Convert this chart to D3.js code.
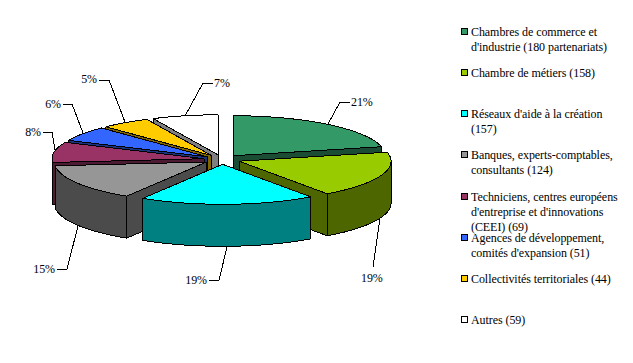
<!DOCTYPE html>
<html>
<head>
<meta charset="utf-8">
<script src="https://cdn.jsdelivr.net/npm/d3@7"></script>
<style>
  html, body { margin: 0; padding: 0; background: #fff; overflow: hidden; }
  text { font-family: "Liberation Serif", "Times New Roman", serif; font-size: 12px; letter-spacing: -0.07px; fill: #000; }
</style>
</head>
<body>
<div id="chart"></div>
<script>
// partnership counts, same order as the legend
const counts = [180, 158, 157, 124, 69, 51, 44, 59];
const colors = ['#339966', '#99CC00', '#00FFFF', '#969696', '#993366', '#3366FF', '#FFCC00', '#FFFFFF'];
const legendLines = [
  ['Chambres de commerce et', "d'industrie (180 partenariats)"],
  ['Chambre de métiers (158)'],
  ["Réseaux d'aide à la création", '(157)'],
  ['Banques, experts-comptables,', 'consultants (124)'],
  ['Techniciens, centres européens', "d'entreprise et d'innovations", '(CEEI) (69)'],
  ['Agences de développement,', "comités d'expansion (51)"],
  ['Collectivités territoriales (44)'],
  ['Autres (59)']
];

// leader lines and where their label sits
const leaders = [
  {path: [[328, 124], [340, 102], [350, 102]], tx: 351, ty: 102, anchor: 'start'},
  {path: [[380, 218], [373, 267]], tx: 361, ty: 278, anchor: 'start'},
  {path: [[227, 247], [219, 280], [209, 280]], tx: 207, ty: 280, anchor: 'end'},
  {path: [[78, 226], [67, 269], [57, 269]], tx: 55, ty: 269, anchor: 'end'},
  {path: [[55, 150], [52, 132], [43, 132]], tx: 41, ty: 132, anchor: 'end'},
  {path: [[83, 133], [72, 104], [63, 104]], tx: 61, ty: 104, anchor: 'end'},
  {path: [[125, 122], [109, 80], [99, 80]], tx: 97, ty: 79, anchor: 'end'},
  {path: [[185, 116], [203, 83], [213, 83]], tx: 214, ty: 83, anchor: 'start'}
];

const width = 633, height = 363;
const cx = 222, cy = 159.5, rx = 152, ry = 40, depth = 42;
const explode = 0.12;

const svg = d3.select('#chart').append('svg')
  .attr('width', width)
  .attr('height', height);

// unit circle -> flattened pie
const x = d3.scaleLinear().domain([-1, 1]).range([cx - rx, cx + rx]);
const y = d3.scaleLinear().domain([-1, 1]).range([cy + ry, cy - ry]);

const total = d3.sum(counts);
const pie = d3.pie().sort(null).startAngle(0).endAngle(2 * Math.PI);
const line = d3.line();

const slices = pie(counts).map((d, i) => {
  const mid = (d.startAngle + d.endAngle) / 2;
  return {
    i: i,
    start: d.startAngle,
    end: d.endAngle,
    ox: explode * Math.sin(mid),
    oy: explode * Math.cos(mid),
    color: colors[i]
  };
});

function point(s, a) {
  return [x(s.ox + Math.sin(a)), y(s.oy + Math.cos(a))];
}

function arcPoints(s, from, to) {
  const n = Math.max(2, Math.ceil((to - from) * 40));
  return d3.range(n + 1).map(k => point(s, from + (to - from) * k / n));
}

function down(p) {
  return [p[0], p[1] + depth];
}

function darken(c) {
  const r = d3.rgb(c);
  return d3.rgb(r.r / 2, r.g / 2, r.b / 2).formatHex();
}

function face(pts, fill) {
  svg.append('path')
    .attr('d', line(pts) + 'Z')
    .attr('fill', fill)
    .attr('stroke', '#000')
    .attr('stroke-width', 1)
    .attr('stroke-linejoin', 'round')
    .attr('shape-rendering', 'crispEdges');
}

// back slices first
const order = slices.slice().sort((a, b) => d3.descending(a.oy, b.oy));

order.forEach(s => {
  const apex = [x(s.ox), y(s.oy)];
  const side = darken(s.color);

  // radial walls, only those turned to the viewer
  if (Math.sin(s.start) < -1e-6) {
    const p = point(s, s.start);
    face([apex, p, down(p), down(apex)], side);
  }
  if (Math.sin(s.end) > 1e-6) {
    const p = point(s, s.end);
    face([apex, p, down(p), down(apex)], side);
  }

  // outer wall, same
  const from = Math.max(s.start, Math.PI / 2);
  const to = Math.min(s.end, 3 * Math.PI / 2);
  if (to > from) {
    const rim = arcPoints(s, from, to);
    face(rim.concat(rim.map(down).reverse()), side);
  }

  // top
  face([apex].concat(arcPoints(s, s.start, s.end)), s.color);
});

// percent labels
leaders.forEach((l, i) => {
  svg.append('path')
    .attr('d', line(l.path))
    .attr('fill', 'none')
    .attr('stroke', '#000')
    .attr('shape-rendering', 'crispEdges');

  svg.append('text')
    .attr('x', l.tx)
    .attr('y', l.ty + 4)
    .attr('text-anchor', l.anchor)
    .text(Math.round(counts[i] / total * 100) + '%');
});

// legend
const legendY = d3.scaleLinear().domain([0, 7]).range([32, 320]);
const lineHeight = 15;

legendLines.forEach((lines, i) => {
  const top = Math.round(legendY(i));

  svg.append('rect')
    .attr('x', 461.5)
    .attr('y', top - 3.5)
    .attr('width', 6)
    .attr('height', 6)
    .attr('fill', colors[i])
    .attr('stroke', '#000')
    .attr('shape-rendering', 'crispEdges');

  lines.forEach((t, k) => {
    svg.append('text')
      .attr('x', 471)
      .attr('y', top + 4 + k * lineHeight)
      .text(t);
  });
});
</script>
</body>
</html>
